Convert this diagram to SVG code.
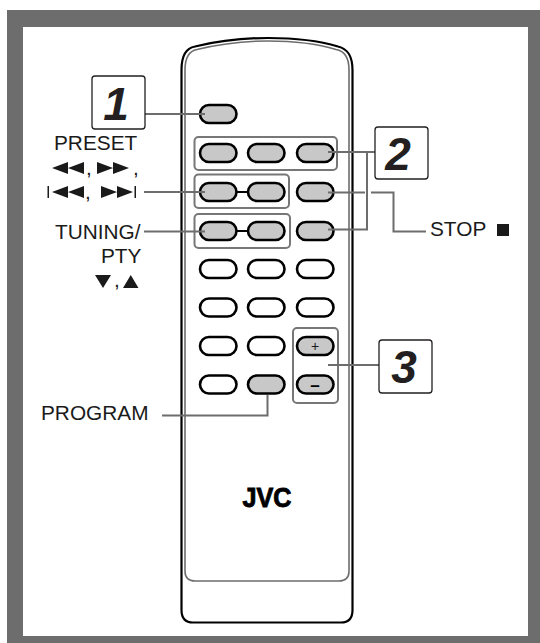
<svg xmlns="http://www.w3.org/2000/svg" width="540" height="643" viewBox="0 0 540 643">
<defs>
<style>
text{font-family:"Liberation Sans",Arial,sans-serif;fill:#1a1a1a}
.lbl{font-size:20.8px}
.num{font-size:46px;font-weight:bold;font-style:italic;text-anchor:middle;fill:#231f20}
.box{fill:#fff;stroke:#231f20;stroke-width:1.3}
.grp{fill:none;stroke:#777;stroke-width:2}
.btn{fill:#fff;stroke:#000;stroke-width:2.6}
.on{fill:#c8c8c8;stroke:#000;stroke-width:2.6}
.ln{fill:none;stroke:#6d6d6d;stroke-width:2}
.tri{fill:#1a1a1a}
</style>
</defs>
<rect id="frame" x="7" y="10" width="533" height="633" fill="#6d6d6d"/>
<rect x="23" y="27" width="505" height="609" fill="#fff"/>
<g id="remote">
<path d="M181.500 610V70C181.500 55 186 48 195 46.500Q230 38 268 38Q310 38 338 46.500C348 49 352.500 56 352.500 70V610Q352.500 622.500 341 622.500H193Q181.500 622.500 181.500 610Z" fill="#fff" stroke="#000" stroke-width="2.200"/>
<path d="M185 571V70C185 58 189 51 197 49.500Q232 41 268 41Q308 41 336 49.500C345 51 349 58 349 70V571Q349 581 339 581H195Q185 581 185 571Z" fill="none" stroke="#6d6d6d" stroke-width="1.600"/>
<text x="267" y="506.500" style="font-size:27.500px;font-weight:bold;text-anchor:middle;fill:#000;stroke:#000;stroke-width:.9" textLength="49" lengthAdjust="spacingAndGlyphs">JVC</text>
</g>
<g id="groups">
<rect class="grp" x="194.500" y="137" width="142.500" height="33" rx="4"/>
<rect class="grp" x="194.500" y="174.500" width="94.500" height="33.500" rx="4"/>
<rect class="grp" x="194.500" y="214" width="95.500" height="34" rx="4"/>
<rect class="grp" x="293" y="328" width="45" height="75" rx="4"/>
</g>
<g id="buttons">
<path d="M236 192H249M236 231H249" stroke="#000" stroke-width="2.200"/>
<rect id="b1" class="on" x="200" y="105" width="36.500" height="18" rx="9"/>
<rect class="on" x="200" y="144" width="36.500" height="18" rx="9"/>
<rect class="on" x="248" y="144" width="36.500" height="18" rx="9"/>
<rect class="on" x="297" y="144" width="36.500" height="18" rx="9"/>
<rect class="on" x="200" y="183" width="36.500" height="18" rx="9"/>
<rect class="on" x="248" y="183" width="36.500" height="18" rx="9"/>
<rect class="on" x="297" y="183" width="36.500" height="18" rx="9"/>
<rect class="on" x="200" y="222" width="36.500" height="18" rx="9"/>
<rect class="on" x="248" y="222" width="36.500" height="18" rx="9"/>
<rect class="on" x="297" y="222" width="36.500" height="18" rx="9"/>
<rect class="btn" x="200" y="260" width="36.500" height="18" rx="9"/>
<rect class="btn" x="248" y="260" width="36.500" height="18" rx="9"/>
<rect class="btn" x="297" y="260" width="36.500" height="18" rx="9"/>
<rect class="btn" x="200" y="298.500" width="36.500" height="18" rx="9"/>
<rect class="btn" x="248" y="298.500" width="36.500" height="18" rx="9"/>
<rect class="btn" x="297" y="298.500" width="36.500" height="18" rx="9"/>
<rect class="btn" x="200" y="337" width="36.500" height="18" rx="9"/>
<rect class="btn" x="248" y="337" width="36.500" height="18" rx="9"/>
<rect class="on" x="297" y="337" width="36.500" height="18" rx="9"/>
<rect class="btn" x="200" y="375.500" width="36.500" height="18" rx="9"/>
<rect class="on" x="248" y="375.500" width="36.500" height="18" rx="9"/>
<rect class="on" x="297" y="375.500" width="36.500" height="18" rx="9"/>
<text x="315" y="350.500" style="font-size:14px;text-anchor:middle">+</text>
<text x="315" y="391" style="font-size:17px;font-weight:bold;text-anchor:middle;fill:#000">–</text>
</g>
<g id="connectors">
<path class="ln" d="M145 114H205"/>
<path class="ln" d="M144 192H205"/>
<path class="ln" d="M144 231.500H205"/>
<path class="ln" d="M328 152H375M367 152V229.500H328"/>
<path class="ln" d="M328 192.500H365M371 192.500H393.500V231.500H426"/>
<path class="ln" d="M328 365H379"/>
<path class="ln" d="M162 415.500H267.500V395"/>
</g>
<g id="callout1"><rect class="box" x="92" y="76" width="53" height="53" rx="3"/><text class="num" x="116" y="120">1</text></g>
<g id="callout2"><rect class="box" x="375" y="127" width="53" height="52" rx="3"/><text class="num" x="398" y="170">2</text></g>
<g id="callout3"><rect class="box" x="379" y="340" width="53" height="53" rx="3"/><text class="num" x="404" y="383">3</text></g>
<g id="labels">
<text class="lbl" x="54" y="150">PRESET</text>
<g class="tri">
<path d="M52 168L68 162V174ZM68 168L84 162V174Z"/>
<path d="M129 168L113 162V174ZM113 168L97 162V174Z"/>
<path d="M47.500 186V198H49V186ZM52 192L68 186V198ZM68 192L84 186V198Z"/>
<path d="M133 192L117 186V198ZM117 192L101 186V198ZM134.500 186V198H136V186Z"/>
</g>
<text class="lbl" x="86" y="175">,</text>
<text class="lbl" x="133" y="175">,</text>
<text class="lbl" x="85" y="199">,</text>
<text class="lbl" x="55" y="239">TUNING/</text>
<text class="lbl" x="101" y="263">PTY</text>
<path class="tri" d="M95 275H111L103 288ZM123 288H138.500L130.750 275Z"/>
<text class="lbl" x="114" y="287">,</text>
<text class="lbl" x="430" y="236">STOP</text>
<rect class="tri" x="497" y="224" width="12" height="12"/>
<text class="lbl" x="41" y="420">PROGRAM</text>
</g>
</svg>
